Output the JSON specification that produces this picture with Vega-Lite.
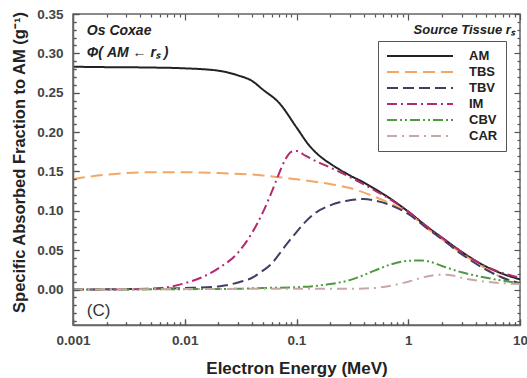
{
  "$schema": "https://vega.github.io/schema/vega-lite/v6.json",
  "width": 447,
  "height": 311,
  "autosize": "none",
  "padding": {"left": 73, "top": 14, "right": 7, "bottom": 53},
  "background": "white",
  "config": {
    "view": {"stroke": "#666", "strokeWidth": 1.5},
    "font": "Liberation Sans"
  },
  "datasets": {
    "curves": [
      {"t":"AM","e":0.001,"v":0.283},{"t":"AM","e":0.002,"v":0.2825},{"t":"AM","e":0.005,"v":0.282},{"t":"AM","e":0.01,"v":0.281},{"t":"AM","e":0.02,"v":0.278},{"t":"AM","e":0.03,"v":0.272},{"t":"AM","e":0.04,"v":0.265},{"t":"AM","e":0.05,"v":0.254},{"t":"AM","e":0.07,"v":0.237},{"t":"AM","e":0.1,"v":0.206},{"t":"AM","e":0.13,"v":0.183},{"t":"AM","e":0.17,"v":0.167},{"t":"AM","e":0.2,"v":0.160},{"t":"AM","e":0.3,"v":0.145},{"t":"AM","e":0.4,"v":0.136},{"t":"AM","e":0.5,"v":0.128},{"t":"AM","e":0.7,"v":0.115},{"t":"AM","e":1,"v":0.099},{"t":"AM","e":1.5,"v":0.079},{"t":"AM","e":2,"v":0.066},{"t":"AM","e":3,"v":0.048},{"t":"AM","e":5,"v":0.029},{"t":"AM","e":7,"v":0.020},{"t":"AM","e":10,"v":0.013},
      {"t":"TBS","e":0.001,"v":0.140},{"t":"TBS","e":0.0015,"v":0.144},{"t":"TBS","e":0.002,"v":0.146},{"t":"TBS","e":0.003,"v":0.148},{"t":"TBS","e":0.005,"v":0.149},{"t":"TBS","e":0.01,"v":0.149},{"t":"TBS","e":0.02,"v":0.148},{"t":"TBS","e":0.05,"v":0.145},{"t":"TBS","e":0.1,"v":0.140},{"t":"TBS","e":0.2,"v":0.134},{"t":"TBS","e":0.3,"v":0.129},{"t":"TBS","e":0.5,"v":0.118},{"t":"TBS","e":0.7,"v":0.109},{"t":"TBS","e":1,"v":0.097},{"t":"TBS","e":1.5,"v":0.077},{"t":"TBS","e":2,"v":0.064},{"t":"TBS","e":3,"v":0.046},{"t":"TBS","e":5,"v":0.026},{"t":"TBS","e":7,"v":0.015},{"t":"TBS","e":10,"v":0.008},
      {"t":"TBV","e":0.001,"v":0.0},{"t":"TBV","e":0.005,"v":0.001},{"t":"TBV","e":0.01,"v":0.002},{"t":"TBV","e":0.02,"v":0.004},{"t":"TBV","e":0.03,"v":0.009},{"t":"TBV","e":0.04,"v":0.015},{"t":"TBV","e":0.05,"v":0.024},{"t":"TBV","e":0.06,"v":0.033},{"t":"TBV","e":0.07,"v":0.045},{"t":"TBV","e":0.08,"v":0.056},{"t":"TBV","e":0.1,"v":0.073},{"t":"TBV","e":0.12,"v":0.086},{"t":"TBV","e":0.15,"v":0.098},{"t":"TBV","e":0.2,"v":0.107},{"t":"TBV","e":0.3,"v":0.1135},{"t":"TBV","e":0.4,"v":0.115},{"t":"TBV","e":0.5,"v":0.113},{"t":"TBV","e":0.7,"v":0.107},{"t":"TBV","e":1,"v":0.096},{"t":"TBV","e":1.5,"v":0.077},{"t":"TBV","e":2,"v":0.064},{"t":"TBV","e":3,"v":0.045},{"t":"TBV","e":5,"v":0.025},{"t":"TBV","e":7,"v":0.015},{"t":"TBV","e":10,"v":0.008},
      {"t":"IM","e":0.001,"v":0.0},{"t":"IM","e":0.003,"v":0.0003},{"t":"IM","e":0.005,"v":0.001},{"t":"IM","e":0.007,"v":0.003},{"t":"IM","e":0.01,"v":0.008},{"t":"IM","e":0.015,"v":0.017},{"t":"IM","e":0.02,"v":0.027},{"t":"IM","e":0.03,"v":0.047},{"t":"IM","e":0.04,"v":0.072},{"t":"IM","e":0.05,"v":0.098},{"t":"IM","e":0.06,"v":0.124},{"t":"IM","e":0.07,"v":0.148},{"t":"IM","e":0.08,"v":0.166},{"t":"IM","e":0.09,"v":0.175},{"t":"IM","e":0.1,"v":0.176},{"t":"IM","e":0.12,"v":0.170},{"t":"IM","e":0.15,"v":0.163},{"t":"IM","e":0.2,"v":0.155},{"t":"IM","e":0.3,"v":0.143},{"t":"IM","e":0.5,"v":0.126},{"t":"IM","e":0.7,"v":0.114},{"t":"IM","e":1,"v":0.099},{"t":"IM","e":1.5,"v":0.079},{"t":"IM","e":2,"v":0.066},{"t":"IM","e":3,"v":0.048},{"t":"IM","e":5,"v":0.029},{"t":"IM","e":7,"v":0.021},{"t":"IM","e":10,"v":0.015},
      {"t":"CBV","e":0.001,"v":0.0},{"t":"CBV","e":0.01,"v":0.0005},{"t":"CBV","e":0.03,"v":0.001},{"t":"CBV","e":0.05,"v":0.002},{"t":"CBV","e":0.1,"v":0.003},{"t":"CBV","e":0.2,"v":0.007},{"t":"CBV","e":0.3,"v":0.012},{"t":"CBV","e":0.5,"v":0.024},{"t":"CBV","e":0.7,"v":0.032},{"t":"CBV","e":1,"v":0.0365},{"t":"CBV","e":1.3,"v":0.037},{"t":"CBV","e":1.5,"v":0.036},{"t":"CBV","e":2,"v":0.030},{"t":"CBV","e":3,"v":0.022},{"t":"CBV","e":5,"v":0.015},{"t":"CBV","e":10,"v":0.008},
      {"t":"CAR","e":0.001,"v":0.0},{"t":"CAR","e":0.1,"v":0.001},{"t":"CAR","e":0.3,"v":0.001},{"t":"CAR","e":0.5,"v":0.002},{"t":"CAR","e":0.7,"v":0.005},{"t":"CAR","e":1,"v":0.010},{"t":"CAR","e":1.5,"v":0.017},{"t":"CAR","e":2,"v":0.019},{"t":"CAR","e":2.5,"v":0.018},{"t":"CAR","e":3,"v":0.015},{"t":"CAR","e":5,"v":0.010},{"t":"CAR","e":10,"v":0.007}
    ],
    "notes": [
      {"label":"Os Coxae","e":0.00133,"v":0.329,"kind":"a"},
      {"label":"Φ( AM ← rₛ )","e":0.00133,"v":0.301,"kind":"b"},
      {"label":"(C)","e":0.00133,"v":-0.027,"kind":"c"},
      {"label":"Source Tissue rₛ","e":9.0,"v":0.3297,"kind":"d"}
    ]
  },
  "layer": [
    {
      "data": {"name": "curves"},
      "mark": {"type": "line", "interpolate": "monotone", "strokeWidth": 2},
      "encoding": {
        "x": {
          "field": "e", "type": "quantitative",
          "scale": {"type": "log", "domain": [0.001, 10], "nice": false},
          "axis": {
            "orient": "bottom", "zindex": 1,
            "title": "Electron Energy (MeV)",
            "titleFont": "Liberation Sans", "titleFontSize": 17, "titleFontWeight": "bold", "titleColor": "#222", "titlePadding": 11,
            "values": [0.001,0.002,0.003,0.004,0.005,0.006,0.007,0.008,0.009,0.01,0.02,0.03,0.04,0.05,0.06,0.07,0.08,0.09,0.1,0.2,0.3,0.4,0.5,0.6,0.7,0.8,0.9,1,2,3,4,5,6,7,8,9,10],
            "format": "~g",
            "labelExpr": "indexof([0.001,0.01,0.1,1,10], datum.value) >= 0 ? datum.label : ''",
            "labelFont": "Liberation Sans", "labelFontSize": 13.5, "labelFontWeight": "bold", "labelColor": "#444",
            "labelPadding": 14, "labelFlush": false, "labelOverlap": false,
            "ticks": true, "tickColor": "#444", "tickWidth": 1.2, "tickOpacity": 1,
            "tickSize": {"condition": {"test": "indexof([0.001,0.01,0.1,1,10], datum.value) >= 0", "value": -6}, "value": -3},
            "domainColor": "#666", "domainWidth": 1.5, "gridOpacity": 0
          }
        },
        "y": {
          "field": "v", "type": "quantitative",
          "scale": {"domain": [-0.045, 0.35], "nice": false, "zero": false},
          "axis": {
            "orient": "left", "zindex": 1,
            "title": "Specific Absorbed Fraction to AM (g⁻¹)",
            "titleFont": "Liberation Sans", "titleFontSize": 16.5, "titleFontWeight": "bold", "titleColor": "#222", "titlePadding": 9,
            "titleY": 148,
            "values": [-0.04,-0.03,-0.02,-0.01,0,0.01,0.02,0.03,0.04,0.05,0.06,0.07,0.08,0.09,0.1,0.11,0.12,0.13,0.14,0.15,0.16,0.17,0.18,0.19,0.2,0.21,0.22,0.23,0.24,0.25,0.26,0.27,0.28,0.29,0.3,0.31,0.32,0.33,0.34,0.35],
            "format": ".2f",
            "labelExpr": "(datum.value >= 0 && abs(round(datum.value*100) % 5) == 0) ? datum.label : ''",
            "labelFont": "Liberation Sans", "labelFontSize": 13.5, "labelFontWeight": "bold", "labelColor": "#444",
            "labelPadding": 16, "labelOverlap": false,
            "ticks": true, "tickColor": "#444", "tickWidth": 1.2, "tickOpacity": 1,
            "tickSize": {"condition": {"test": "abs(round(datum.value*100) % 5) == 0", "value": -6}, "value": -3},
            "domainColor": "#666", "domainWidth": 1.5, "gridOpacity": 0
          }
        },
        "color": {
          "field": "t", "type": "nominal",
          "scale": {"domain": ["AM","TBS","TBV","IM","CBV","CAR"], "range": ["#222222","#F2A862","#3E3E66","#B4286E","#4F9A40","#C8A8A6"]},
          "legend": {
            "orient": "none", "legendX": 305, "legendY": 27, "title": null,
            "strokeColor": "#555", "padding": 8,
            "symbolType": "stroke", "symbolSize": 4356, "symbolStrokeWidth": 2,
            "labelFont": "Liberation Sans", "labelFontSize": 13, "labelFontWeight": "bold", "labelColor": "#222",
            "labelOffset": 15, "clipHeight": 14, "rowPadding": 2
          }
        },
        "strokeDash": {
          "field": "t", "type": "nominal",
          "scale": {"domain": ["AM","TBS","TBV","IM","CBV","CAR"], "range": [[1,0],[12,6],[11,5],[10,4,2,4],[10,3,2,3,2,3],[10,5,2,5]]},
          "legend": {
            "orient": "none", "legendX": 305, "legendY": 27, "title": null,
            "strokeColor": "#555", "padding": 8,
            "symbolType": "stroke", "symbolSize": 4356, "symbolStrokeWidth": 2,
            "labelFont": "Liberation Sans", "labelFontSize": 13, "labelFontWeight": "bold", "labelColor": "#222",
            "labelOffset": 15, "clipHeight": 14, "rowPadding": 2
          }
        }
      }
    },
    {
      "data": {"name": "notes"},
      "transform": [{"filter": "datum.kind == 'a' || datum.kind == 'b'"}],
      "mark": {"type": "text", "align": "left", "baseline": "middle", "font": "Liberation Sans", "fontSize": 14, "fontWeight": "bold", "fontStyle": "italic", "color": "#222"},
      "encoding": {
        "x": {"field": "e", "type": "quantitative", "axis": null},
        "y": {"field": "v", "type": "quantitative", "axis": null},
        "text": {"field": "label"}
      }
    },
    {
      "data": {"name": "notes"},
      "transform": [{"filter": "datum.kind == 'c'"}],
      "mark": {"type": "text", "align": "left", "baseline": "middle", "font": "Liberation Sans", "fontSize": 17, "color": "#333"},
      "encoding": {
        "x": {"field": "e", "type": "quantitative", "axis": null},
        "y": {"field": "v", "type": "quantitative", "axis": null},
        "text": {"field": "label"}
      }
    },
    {
      "data": {"name": "notes"},
      "transform": [{"filter": "datum.kind == 'd'"}],
      "mark": {"type": "text", "align": "right", "baseline": "middle", "font": "Liberation Sans", "fontSize": 13, "fontWeight": "bold", "fontStyle": "italic", "color": "#222"},
      "encoding": {
        "x": {"field": "e", "type": "quantitative", "axis": null},
        "y": {"field": "v", "type": "quantitative", "axis": null},
        "text": {"field": "label"}
      }
    },
    {
      "data": {"name": "curves"},
      "mark": {"type": "point", "opacity": 0},
      "encoding": {
        "x": {
          "field": "e", "type": "quantitative",
          "axis": {"orient": "top", "zindex": 1, "title": null, "labels": false, "domain": false, "grid": false, "ticks": true,
            "offset": -6, "tickSize": 6, "tickColor": "#555", "tickWidth": 1.2,
            "values": [0.001,0.01,0.1,1,10]}
        },
        "y": {
          "field": "v", "type": "quantitative",
          "axis": {"orient": "right", "zindex": 1, "title": null, "labels": false, "domain": false, "grid": false, "ticks": true,
            "offset": -6, "tickSize": 6, "tickColor": "#555", "tickWidth": 1.2,
            "values": [0,0.05,0.1,0.15,0.2,0.25,0.3,0.35]}
        }
      }
    },
    {
      "data": {"name": "curves"},
      "mark": {"type": "point", "opacity": 0},
      "encoding": {
        "x": {
          "field": "e", "type": "quantitative",
          "axis": {"orient": "bottom", "zindex": 1, "title": null, "labels": false, "domain": false, "grid": false, "ticks": true,
            "offset": -3, "tickSize": 3, "tickColor": "#555", "tickWidth": 1.2,
            "values": [0.002,0.003,0.004,0.005,0.006,0.007,0.008,0.009,0.02,0.03,0.04,0.05,0.06,0.07,0.08,0.09,0.2,0.3,0.4,0.5,0.6,0.7,0.8,0.9,2,3,4,5,6,7,8,9]}
        },
        "y": {
          "field": "v", "type": "quantitative",
          "axis": {"orient": "left", "zindex": 1, "title": null, "labels": false, "domain": false, "grid": false, "ticks": true,
            "offset": -3, "tickSize": 3, "tickColor": "#555", "tickWidth": 1.2,
            "values": [-0.04,-0.03,-0.02,-0.01,0.01,0.02,0.03,0.04,0.06,0.07,0.08,0.09,0.11,0.12,0.13,0.14,0.16,0.17,0.18,0.19,0.21,0.22,0.23,0.24,0.26,0.27,0.28,0.29,0.31,0.32,0.33,0.34]}
        }
      }
    },
    {
      "data": {"name": "curves"},
      "mark": {"type": "point", "opacity": 0},
      "encoding": {
        "x": {
          "field": "e", "type": "quantitative",
          "axis": {"orient": "top", "zindex": 1, "title": null, "labels": false, "domain": false, "grid": false, "ticks": true,
            "offset": -3, "tickSize": 3, "tickColor": "#555", "tickWidth": 1.2,
            "values": [0.002,0.003,0.004,0.005,0.006,0.007,0.008,0.009,0.02,0.03,0.04,0.05,0.06,0.07,0.08,0.09,0.2,0.3,0.4,0.5,0.6,0.7,0.8,0.9,2,3,4,5,6,7,8,9]}
        },
        "y": {
          "field": "v", "type": "quantitative",
          "axis": {"orient": "right", "zindex": 1, "title": null, "labels": false, "domain": false, "grid": false, "ticks": true,
            "offset": -3, "tickSize": 3, "tickColor": "#555", "tickWidth": 1.2,
            "values": [-0.04,-0.03,-0.02,-0.01,0.01,0.02,0.03,0.04,0.06,0.07,0.08,0.09,0.11,0.12,0.13,0.14,0.16,0.17,0.18,0.19,0.21,0.22,0.23,0.24,0.26,0.27,0.28,0.29,0.31,0.32,0.33,0.34]}
        }
      }
    },
    {
      "data": {"name": "curves"},
      "mark": {"type": "point", "opacity": 0},
      "encoding": {
        "x": {
          "field": "e", "type": "quantitative",
          "axis": {"orient": "bottom", "zindex": 1, "title": null, "labels": false, "domain": false, "grid": false, "ticks": true,
            "offset": -6, "tickSize": 6, "tickColor": "#555", "tickWidth": 1.2,
            "values": [0.001,0.01,0.1,1,10]}
        },
        "y": {
          "field": "v", "type": "quantitative",
          "axis": {"orient": "left", "zindex": 1, "title": null, "labels": false, "domain": false, "grid": false, "ticks": true,
            "offset": -6, "tickSize": 6, "tickColor": "#555", "tickWidth": 1.2,
            "values": [0,0.05,0.1,0.15,0.2,0.25,0.3,0.35]}
        }
      }
    }
  ],
  "resolve": {"axis": {"x": "independent", "y": "independent"}}
}
